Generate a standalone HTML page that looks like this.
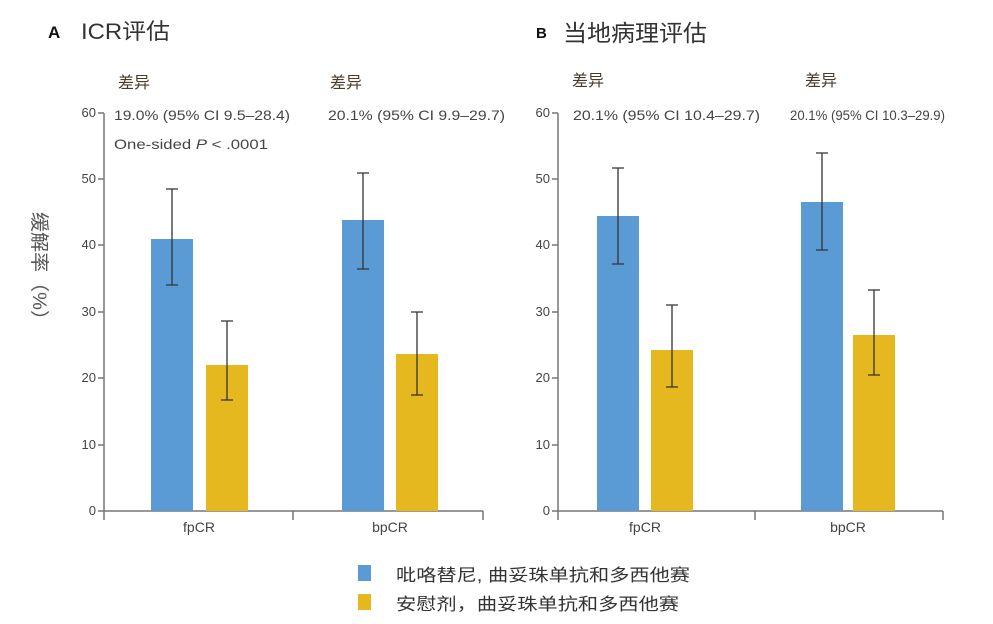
<!DOCTYPE html>
<html><head><meta charset="utf-8"><style>
body{margin:0;background:#fff;}
svg{display:block;font-family:"Liberation Sans","Noto Sans CJK SC",sans-serif;}
</style></head><body>
<svg width="993" height="624" viewBox="0 0 993 624" xmlns="http://www.w3.org/2000/svg">
<g fill="#333">
<text x="48" y="38" font-size="17" font-weight="bold" fill="#111">A</text>
<text x="81" y="39" font-size="22" textLength="89" lengthAdjust="spacingAndGlyphs">ICR评估</text>
<text x="536" y="38" font-size="15" font-weight="bold" fill="#111">B</text>
<text x="563" y="41" font-size="23" textLength="144" lengthAdjust="spacingAndGlyphs">当地病理评估</text>
<g font-size="16" fill="#4a3a2a"><text x="118" y="88">差异</text><text x="330" y="88">差异</text><text x="572" y="86">差异</text><text x="805" y="86">差异</text></g>
<g font-size="14" fill="#444" lengthAdjust="spacingAndGlyphs">
<text x="114" y="120" textLength="176" lengthAdjust="spacingAndGlyphs">19.0% (95% CI 9.5–28.4)</text>
<text x="114" y="149" textLength="154" lengthAdjust="spacingAndGlyphs">One-sided <tspan font-style="italic">P</tspan> &lt; .0001</text>
<text x="328" y="120" textLength="177" lengthAdjust="spacingAndGlyphs">20.1% (95% CI 9.9–29.7)</text>
<text x="573" y="120" textLength="187" lengthAdjust="spacingAndGlyphs">20.1% (95% CI 10.4–29.7)</text>
<text x="790" y="120" textLength="155" lengthAdjust="spacingAndGlyphs">20.1% (95% CI 10.3–29.9)</text>
</g>
<text transform="translate(33,212) rotate(90)" font-size="19" fill="#555" textLength="118" lengthAdjust="spacingAndGlyphs">缓解率（%）</text>
</g>
<g stroke="#777" stroke-width="1.5" fill="none">
<path d="M104 113 V511 H483 M104 511 V520 M293 511 V520 M483 511 V520"/>
<path d="M558 113 V511 H943 M558 511 V520 M755 511 V520 M943 511 V520"/>
<path d="M98 113H104M98 179H104M98 245H104M98 312H104M98 378H104M98 445H104M98 511H104"/>
<path d="M552 113H558M552 179H558M552 245H558M552 312H558M552 378H558M552 445H558M552 511H558"/>
</g>
<g font-size="13" fill="#444" text-anchor="end">
<text x="96" y="117">60</text><text x="96" y="183">50</text><text x="96" y="249">40</text><text x="96" y="316">30</text><text x="96" y="382">20</text><text x="96" y="449">10</text><text x="96" y="515">0</text>
<text x="550" y="117">60</text><text x="550" y="183">50</text><text x="550" y="249">40</text><text x="550" y="316">30</text><text x="550" y="382">20</text><text x="550" y="449">10</text><text x="550" y="515">0</text>
</g>
<g font-size="14" fill="#444" text-anchor="middle">
<text x="199" y="532">fpCR</text><text x="390" y="532">bpCR</text>
<text x="645" y="532">fpCR</text><text x="848" y="532">bpCR</text>
</g>
<g fill="#5b9bd5">
<rect x="151" y="239" width="42" height="272"/>
<rect x="342" y="220" width="42" height="291"/>
<rect x="597" y="216" width="42" height="295"/>
<rect x="801" y="202" width="42" height="309"/>
</g>
<g fill="#e6b820">
<rect x="206" y="365" width="42" height="146"/>
<rect x="396" y="354" width="42" height="157"/>
<rect x="651" y="350" width="42" height="161"/>
<rect x="853" y="335" width="42" height="176"/>
</g>
<g stroke="#333" stroke-width="1.3">
<path d="M172 189V285M166 189H178M166 285H178"/>
<path d="M227 321V400M221 321H233M221 400H233"/>
<path d="M363 173V269M357 173H369M357 269H369"/>
<path d="M417 312V395M411 312H423M411 395H423"/>
<path d="M618 168V264M612 168H624M612 264H624"/>
<path d="M672 305V387M666 305H678M666 387H678"/>
<path d="M822 153V250M816 153H828M816 250H828"/>
<path d="M874 290V375M868 290H880M868 375H880"/>
</g>
<rect x="358" y="565" width="13" height="16" fill="#5b9bd5"/>
<rect x="358" y="594" width="13" height="16" fill="#e6b820"/>
<g font-size="17" fill="#333"><text x="396" y="581" textLength="294" lengthAdjust="spacingAndGlyphs">吡咯替尼, 曲妥珠单抗和多西他赛</text><text x="396" y="610" textLength="283" lengthAdjust="spacingAndGlyphs">安慰剂，曲妥珠单抗和多西他赛</text></g>
</svg>
</body></html>
